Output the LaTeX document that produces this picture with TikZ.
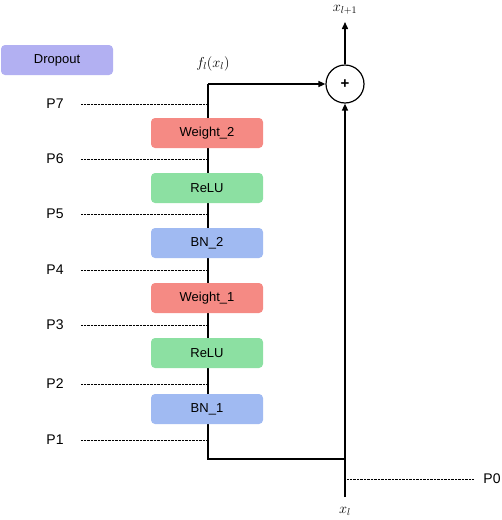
\documentclass[tikz,border=0pt]{standalone}
\usepackage{fontspec}
\setmainfont{Liberation Sans}
\usetikzlibrary{arrows.meta,positioning}
\definecolor{dropcol}{RGB}{178,176,242}
\definecolor{weightcol}{RGB}{245,138,132}
\definecolor{relucol}{RGB}{140,224,162}
\definecolor{bncol}{RGB}{160,186,242}

\begin{document}
\begin{tikzpicture}[x=1pt, y=-1pt, > = {Triangle[length=7pt,width=6pt]},
  layer/.style = {rounded corners=4pt, minimum width=112pt, minimum height=30pt, inner sep=0pt, font=\fontsize{13}{15}\selectfont},
  plabel/.style = {font=\fontsize{14}{16}\selectfont},
  probe/.style = {densely dotted, thin},
  mathlbl/.style = {font=\fontsize{14}{16}\selectfont},
  ]
	\useasboundingbox (0,0) rectangle (502,520);

	% main path and skip connection
	\coordinate (top) at (208,84);
	\coordinate (bottom) at (208,459);
	\coordinate (join) at (345,459);
	\coordinate (xin) at (345,497);
	\coordinate (out) at (345,22);
	\node[draw, circle, line width=1.2pt, minimum size=38pt, inner sep=0pt, font=\fontsize{15}{15}\bfseries] (plus) at (345,84) {+};

	\draw[line width=1.5pt] (top) -- (bottom) -- (join);
	\draw[->, line width=1.5pt] (top) -- (plus.west);
	\draw[->, line width=1.5pt] (xin) -- (plus.south);
	\draw[->, line width=1.5pt] (plus.north) -- (out);

	\node[mathlbl] (xout) at (345,10) {$x_{l+1}$};
	\node[mathlbl] (xl) at (345,511) {$x_l$};
	\node[mathlbl] (fl) at (213,64) {$f_l(x_l)$};

	% layers
	\node[layer, fill=dropcol] (dropout) at (57,60) {Dropout};
	\node[layer, fill=weightcol] (w2) at (207,133) {Weight\_2};
	\node[layer, fill=relucol] (relu2) at (207,188) {ReLU};
	\node[layer, fill=bncol] (bn2) at (207,243) {BN\_2};
	\node[layer, fill=weightcol] (w1) at (207,298) {Weight\_1};
	\node[layer, fill=relucol] (relu1) at (207,353) {ReLU};
	\node[layer, fill=bncol] (bn1) at (207,409) {BN\_1};

	% probe points
	\foreach \i/\y in {7/104, 6/159, 5/214, 4/270, 3/325, 2/384, 1/440} {
		\node[plabel] (p\i) at (55,\y) {P\i};
		\coordinate (t\i) at (207,\y);
		\draw[probe] ([xshift=14pt]p\i.east) -- (t\i);
	}
	\node[plabel] (p0) at (492,479) {P0};
	\coordinate (t0) at (347,479);
	\draw[probe] (t0) -- ([xshift=-6pt]p0.west);

\end{tikzpicture}
\end{document}
